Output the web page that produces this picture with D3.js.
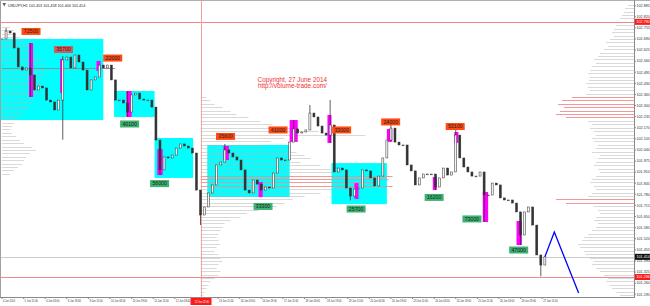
<!DOCTYPE html>
<html>
<head>
<meta charset="utf-8">
<script src="https://cdn.jsdelivr.net/npm/d3@7"></script>
<style>
  body { margin: 0; background: #fff; }
  svg { display: block; }
</style>
</head>
<body>
<div id="chart"></div>
<script>
'use strict';

// USDJPY H1, one close every 3rd bar (bar index = 3 * k)
const barStep = 3;
const closes = [
    102.690, 102.736, 102.725, 102.637, 102.526, 102.508, 102.520, 102.479, 102.391, 102.414,
    102.403, 102.332, 102.321, 102.274, 102.332, 102.567, 102.584, 102.520, 102.596, 102.555,
    102.508, 102.391, 102.450, 102.467, 102.537, 102.520, 102.537, 102.450, 102.332, 102.332,
    102.315, 102.262, 102.362, 102.373, 102.338, 102.332, 102.332, 102.291, 102.098, 101.923,
    101.999, 101.993, 102.010, 102.051, 102.075, 102.063, 102.051, 102.022, 101.805, 101.659,
    101.706, 101.788, 101.835, 101.952, 101.969, 102.040, 102.022, 101.999, 101.981, 101.923,
    101.805, 101.788, 101.864, 101.840, 101.805, 101.823, 101.817, 101.905, 101.993, 101.981,
    101.981, 102.086, 102.163, 102.139, 102.145, 102.157, 102.256, 102.233, 102.180, 102.139,
    102.127, 102.186, 101.911, 101.934, 101.923, 101.817, 101.770, 101.811, 101.817, 101.923,
    101.917, 101.876, 101.829, 101.887, 101.993, 102.098, 102.168, 102.086, 102.069, 102.069,
    101.952, 101.917, 101.835, 101.876, 101.899, 101.899, 101.899, 101.823, 101.876, 101.934,
    101.893, 101.911, 102.127, 101.993, 101.940, 101.911, 101.887, 101.887, 101.911, 101.776,
    101.776, 101.846, 101.835, 101.759, 101.747, 101.747, 101.729, 101.677, 101.542, 101.677,
    101.706, 101.600, 101.425, 101.366, 101.414
];

// long wicks: [k, high, low]
const wicks = [
    [1, 102.754, 102.690], [7, 102.666, 102.350], [15, 102.590, 102.100],
    [31, 102.385, 102.233], [39, 102.098, 101.893], [49, 101.706, 101.600],
    [55, 102.075, 101.969], [72, 102.215, 102.087], [76, 102.303, 102.233],
    [81, 102.332, 102.081], [86, 101.811, 101.745], [96, 102.186, 102.098],
    [107, 101.882, 101.805], [112, 102.157, 101.911], [119, 101.911, 101.618],
    [128, 101.677, 101.483], [133, 101.425, 101.300]
];

// price axis labels
const priceTicks = [
    102.885, 102.820, 102.755, 102.690, 102.625, 102.560, 102.495, 102.430, 102.365,
    102.300, 102.235, 102.170, 102.105, 102.040, 101.975, 101.910, 101.845, 101.780,
    101.715, 101.650, 101.585, 101.520, 101.455, 101.390, 101.325, 101.260, 101.195
];

// time axis labels, one every 16 bars
const timeLabels = [
    '4 Jun 2014', '5 Jun 11:00', '6 Jun 03:00', '6 Jun 19:00', '9 Jun 11:00',
    '10 Jun 03:00', '10 Jun 19:00', '11 Jun 11:00', '12 Jun 03:00', '12 Jun 19:00',
    '13 Jun 11:00', '16 Jun 03:00', '16 Jun 19:00', '17 Jun 11:00', '18 Jun 03:00',
    '18 Jun 19:00', '19 Jun 11:00', '20 Jun 03:00', '20 Jun 19:00', '23 Jun 11:00',
    '24 Jun 03:00', '24 Jun 19:00', '25 Jun 11:00', '26 Jun 03:00', '26 Jun 19:00',
    '27 Jun 11:00'
];
const timeLabelEvery = 16;

// consolidation zones: [barFrom, barTo, priceTop, priceBottom]
const zones = [
    [-2, 75, 102.690, 102.215],
    [83, 113, 102.385, 102.233],
    [113, 141.5, 102.110, 101.876],
    [152, 213, 102.069, 101.764],
    [244, 285, 101.963, 101.723]
];

// high volume bars: [barFrom, barTo, high, low]
const volumeBars = [
    [20, 23, 102.666, 102.350], [43, 45, 102.573, 102.373], [70, 73, 102.561, 102.502],
    [92, 96, 102.385, 102.233], [115, 119, 102.045, 101.893], [164, 168, 102.063, 101.981],
    [190, 193, 101.852, 101.764], [213, 219, 102.215, 102.087], [241, 244, 102.245, 102.081],
    [261, 264, 101.846, 101.753], [285, 289, 102.163, 102.087], [319, 322, 101.882, 101.805],
    [335, 338, 102.145, 102.081], [356, 360, 101.794, 101.618], [381, 385, 101.624, 101.483]
];

// volume tags: [bar, price, text, kind]
const volumeTags = [
    [21.5, 102.734, '72500', 'up'], [45.5, 102.628, '35700', 'mid'], [82, 102.578, '22000', 'up'],
    [94.5, 102.192, '40100', 'down'], [116.7, 101.843, '56000', 'down'], [165.5, 102.119, '35600', 'up'],
    [204.4, 102.157, '41000', 'up'], [251.5, 102.157, '33000', 'up'], [287.8, 102.204, '24000', 'up'],
    [193.3, 101.709, '33300', 'down'], [262.2, 101.694, '25700', 'down'], [335.6, 102.177, '53100', 'up'],
    [320, 101.762, '16200', 'down'], [348, 101.636, '73000', 'down'], [382.6, 101.454, '47000', 'down']
];

// forecast path: [bar, price]
const forecast = [[402, 101.414], [409, 101.559], [427, 101.202]];

// volume profiles, bins of 0.02 going down from the top price
const profileStep = 0.02;
const leftProfileBar = 0;
const leftProfileTop = 102.76;
const leftProfile = [
    8, 12, 14, 18, 22, 26, 28, 30, 34, 38, 40, 44, 113, 42, 44, 40, 38, 42, 36, 40, 34,
    30, 32, 28, 26, 22, 18, 14, 12, 10, 8, 10, 14, 18, 22, 30, 34, 28, 24, 22, 20, 16, 12, 8
];
const middleProfileBar = 147;
const middleProfileTop = 102.35;
const middleProfile = [
    6, 10, 14, 22, 30, 36, 48, 60, 72, 96, 118, 165, 84, 70, 62, 88, 96, 104, 110, 100,
    120, 130, 150, 192, 188, 175, 192, 150, 120, 104, 92, 84, 76, 58, 46, 40, 30, 24, 22,
    20, 18, 16, 18, 20, 16, 14, 18, 20, 22, 18, 16, 20, 18, 14, 10, 8, 6, 4, 3
];
const rightProfileTop = 102.89;
const rightProfile = [
    6, 9, 10, 12, 14, 15, 18, 20, 22, 20, 24, 28, 26, 30, 34, 36, 40, 38, 42, 44,
    46, 44, 45, 48, 46, 44, 48, 62, 72, 76, 70, 74, 78, 68, 46, 42, 44, 40, 38, 42,
    40, 36, 38, 42, 34, 36, 38, 40, 36, 34, 38, 42, 44, 40, 38, 42, 46, 78, 68, 40,
    36, 34, 38, 40, 36, 38, 42, 46, 50, 52, 56, 54, 50, 48, 44, 40, 42, 38, 34, 30,
    26, 28, 24, 22, 18, 14
];

// marked levels
const redLevels = [102.790, 101.296];
const lastPrice = 101.414;
const markerBar = 147;
const markerLabel = '12 Jun 22:00';

const settings = {
    width: 650,
    height: 306,
    left: 2,
    right: 634,
    bottom: 297,
    axisFont: 3.7,
    charWidth: 1.2
};

const svg = d3.select('#chart')
    .append('svg')
    .attr('width', settings.width)
    .attr('height', settings.height)
    .style('font-family', 'Liberation Sans, Arial, sans-serif');

const x = d3.scaleLinear().domain([0, 468]).range([settings.left, settings.right]);
const y = d3.scaleLinear().domain([101.173, 102.918]).range([298, 0]);
const profileWidth = d3.scaleLinear().domain([0, 100]).range([0, 100]);

svg.append('clipPath').attr('id', 'plot')
    .append('rect')
    .attr('x', 0).attr('y', 0)
    .attr('width', settings.right).attr('height', settings.bottom);

const plot = svg.append('g').attr('clip-path', 'url(#plot)');

// zones
plot.selectAll('.zone')
    .data(zones)
    .join('rect')
    .attr('class', 'zone')
    .attr('x', d => x(d[0]))
    .attr('y', d => y(d[2]))
    .attr('width', d => x(d[1]) - x(d[0]))
    .attr('height', d => y(d[3]) - y(d[2]))
    .attr('fill', '#00ffff');

// volume profiles
function drawProfile(values, top, anchorX, dir, hot, hotColor) {
    plot.append('g')
        .selectAll('line')
        .data(values)
        .join('line')
        .attr('x1', anchorX)
        .attr('x2', d => anchorX + dir * profileWidth(d))
        .attr('y1', (d, i) => Math.round(y(top - i * profileStep)) + 0.5)
        .attr('y2', (d, i) => Math.round(y(top - i * profileStep)) + 0.5)
        .attr('stroke', d => d > hot ? hotColor : '#b4b4b4')
        .attr('stroke-opacity', d => d > hot ? 0.9 : 0.5)
        .attr('stroke-width', 1);
}
drawProfile(leftProfile, leftProfileTop, x(leftProfileBar), 1, 100, '#8c8c8c');
drawProfile(middleProfile, middleProfileTop, x(middleProfileBar), 1, 170, '#f28c8c');
drawProfile(rightProfile, rightProfileTop, settings.right, -1, 60, '#f28c8c');

// level lines
plot.selectAll('.level')
    .data(redLevels)
    .join('line')
    .attr('class', 'level')
    .attr('x1', 0).attr('x2', settings.right)
    .attr('y1', d => Math.round(y(d)) + 0.5)
    .attr('y2', d => Math.round(y(d)) + 0.5)
    .attr('stroke', '#f08a8a');

plot.append('line')
    .attr('x1', 0).attr('x2', settings.right)
    .attr('y1', Math.round(y(lastPrice)) + 0.5)
    .attr('y2', Math.round(y(lastPrice)) + 0.5)
    .attr('stroke', '#cccccc');

plot.append('line')
    .attr('x1', Math.round(x(markerBar)) + 0.5)
    .attr('x2', Math.round(x(markerBar)) + 0.5)
    .attr('y1', 0).attr('y2', settings.bottom)
    .attr('stroke', '#f4a0a0');

// high volume bars
plot.selectAll('.vbar')
    .data(volumeBars)
    .join('rect')
    .attr('class', 'vbar')
    .attr('x', d => x(d[0]))
    .attr('y', d => y(d[2]))
    .attr('width', d => x(d[1]) - x(d[0]))
    .attr('height', d => y(d[3]) - y(d[2]))
    .attr('fill', '#ff00ff');

// candles
const wickMap = new Map(wicks.map(w => [w[0], w]));
const candles = closes.map((c, k) => {
    const open = k === 0 ? c : closes[k - 1];
    const w = wickMap.get(k);
    const high = w ? Math.max(w[1], open, c) : Math.max(open, c);
    const low = w ? Math.min(w[2], open, c) : Math.min(open, c);
    return { bar: k * barStep, open, close: c, high, low };
});

const candle = plot.append('g')
    .selectAll('g')
    .data(candles)
    .join('g');

candle.append('line')
    .attr('x1', d => x(d.bar))
    .attr('x2', d => x(d.bar))
    .attr('y1', d => y(d.high))
    .attr('y2', d => y(d.low))
    .attr('stroke', '#333')
    .attr('stroke-width', 0.8);

candle.append('rect')
    .attr('x', d => x(d.bar) - 1)
    .attr('y', d => y(Math.max(d.open, d.close)))
    .attr('width', 2)
    .attr('height', d => Math.max(0.8, Math.abs(y(d.open) - y(d.close))))
    .attr('fill', d => d.close >= d.open ? '#f4f4f4' : '#333')
    .attr('stroke', '#333')
    .attr('stroke-width', 0.5);

// forecast
plot.append('path')
    .datum(forecast)
    .attr('d', d3.line().x(d => x(d[0])).y(d => y(d[1])))
    .attr('fill', 'none')
    .attr('stroke', '#0000ff')
    .attr('stroke-width', 1.3);

// volume tags
const tagColor = { up: '#ff4a12', mid: '#d65a58', down: '#3cb371' };
const tag = plot.append('g')
    .selectAll('g')
    .data(volumeTags)
    .join('g')
    .attr('transform', d => `translate(${x(d[0])},${y(d[1])})`);

tag.append('rect')
    .attr('x', -9.5).attr('y', -3.5)
    .attr('width', 19).attr('height', 7)
    .attr('fill', d => tagColor[d[3]]);

tag.append('text')
    .text(d => d[2])
    .attr('text-anchor', 'middle')
    .attr('dy', '0.35em')
    .attr('font-size', 5.2)
    .attr('fill', '#1e1e1e');

// copyright
const note = plot.append('g').attr('fill', '#f03030').attr('font-size', 6.4).attr('text-anchor', 'middle');
note.append('text').attr('x', x(215)).attr('y', y(102.440)).text('Copyright, 27 June 2014');
note.append('text').attr('x', x(215)).attr('y', y(102.405)).text('http://volume-trade.com/');

// frame
svg.append('line').attr('x1', 0.5).attr('x2', 0.5).attr('y1', 0).attr('y2', settings.bottom)
    .attr('stroke', '#a0a0a0');
svg.append('line').attr('x1', 0).attr('x2', settings.width).attr('y1', 0.5).attr('y2', 0.5)
    .attr('stroke', '#b0b0b0');
svg.append('line').attr('x1', 0).attr('x2', settings.right)
    .attr('y1', settings.bottom + 0.5).attr('y2', settings.bottom + 0.5)
    .attr('stroke', '#8a8a8a');
svg.append('line').attr('x1', settings.right + 0.5).attr('x2', settings.right + 0.5)
    .attr('y1', 0).attr('y2', settings.bottom + 1)
    .attr('stroke', '#8a8a8a');

// header
svg.append('path')
    .attr('d', 'M2.5,3 L6,3 L4.25,6.5 Z')
    .attr('fill', '#606060');
svg.append('text')
    .attr('x', 8).attr('y', 6.5)
    .attr('font-size', settings.axisFont)
    .attr('fill', '#222')
    .text('USDJPY,H1  101.453 101.458 101.404 101.414');

// price axis
const priceAxis = svg.append('g');
priceAxis.selectAll('line')
    .data(priceTicks)
    .join('line')
    .attr('x1', settings.right).attr('x2', settings.right + 2)
    .attr('y1', d => y(d)).attr('y2', d => y(d))
    .attr('stroke', '#8a8a8a');
priceAxis.selectAll('text')
    .data(priceTicks)
    .join('text')
    .attr('x', settings.right + 2.5)
    .attr('y', d => y(d))
    .attr('dy', '0.35em')
    .attr('font-size', settings.axisFont)
    .attr('fill', '#333')
    .text(d => d.toFixed(3));

// price flags
const flags = [
    [redLevels[0], '#ff1a1a'], [redLevels[1], '#ff1a1a'], [lastPrice, '#111111']
];
const flag = svg.append('g')
    .selectAll('g')
    .data(flags)
    .join('g')
    .attr('transform', d => `translate(${settings.right + 1},${y(d[0])})`);
flag.append('rect')
    .attr('x', 0).attr('y', -3)
    .attr('width', 15).attr('height', 6)
    .attr('fill', d => d[1]);
flag.append('text')
    .attr('x', 1.5).attr('dy', '0.35em')
    .attr('font-size', settings.axisFont)
    .attr('fill', '#fff')
    .text(d => d[0].toFixed(3));

// time axis (the label under the marker flag is hidden, as in the terminal)
const markerX = x(markerBar);
const timeTicks = timeLabels
    .map((text, i) => ({ text, bar: i * timeLabelEvery }))
    .filter(d => Math.abs(x(d.bar) - markerX) > 10);

const timeAxis = svg.append('g');
timeAxis.selectAll('line')
    .data(timeTicks)
    .join('line')
    .attr('x1', d => x(d.bar))
    .attr('x2', d => x(d.bar))
    .attr('y1', settings.bottom).attr('y2', settings.bottom + 2)
    .attr('stroke', '#8a8a8a');
timeAxis.selectAll('text')
    .data(timeTicks)
    .join('text')
    .attr('x', d => x(d.bar) + 1)
    .attr('y', settings.bottom + 5.4)
    .attr('font-size', settings.axisFont)
    .attr('textLength', d => d.text.length * settings.charWidth)
    .attr('lengthAdjust', 'spacingAndGlyphs')
    .attr('fill', '#333')
    .text(d => d.text);

// marker time flag
const markerFlag = svg.append('g')
    .attr('transform', `translate(${markerX},${settings.bottom + 1})`);
markerFlag.append('rect')
    .attr('x', -10).attr('y', 0)
    .attr('width', 21).attr('height', 7)
    .attr('fill', '#ff1a1a');
markerFlag.append('text')
    .attr('x', 1.5)
    .attr('y', 5)
    .attr('text-anchor', 'middle')
    .attr('font-size', settings.axisFont)
    .attr('textLength', markerLabel.length * settings.charWidth)
    .attr('lengthAdjust', 'spacingAndGlyphs')
    .attr('fill', '#fff')
    .text(markerLabel);
</script>
</body>
</html>
